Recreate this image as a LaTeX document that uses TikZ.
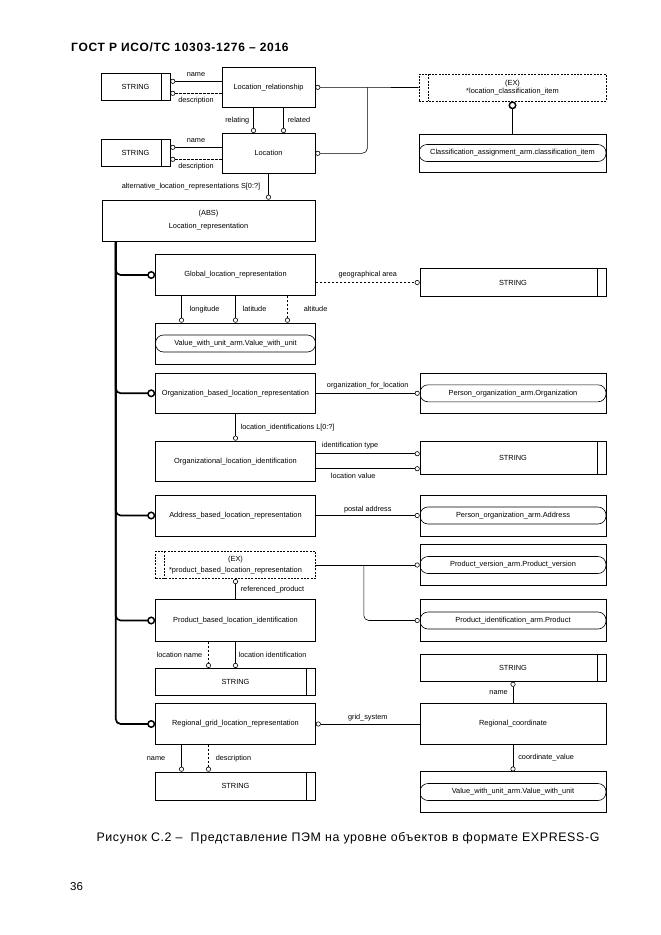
\documentclass[tikz,border=0pt]{standalone}
\usepackage{fontspec}
\setmainfont{Liberation Sans}
\newfontfamily\capfont[LetterSpace=5]{Liberation Sans}
\newfontfamily\titlefont[LetterSpace=6]{Liberation Sans}
\usetikzlibrary{positioning}
\usetikzlibrary{arrows.meta, positioning}
\tikzstyle{entity} = [rectangle, draw=black, line width=0.6pt, minimum width=160pt, minimum height=40.5pt, text centered, align=center, inner sep=1pt, font=\fontsize{7.4}{10}\selectfont]
\tikzstyle{wide} = [minimum width=186pt]
\tikzstyle{strbox} = [entity, minimum height=27.5pt, path picture={\draw[line width=0.6pt] ([xshift=-9pt]path picture bounding box.north east) -- ([xshift=-9pt]path picture bounding box.south east);}]
\tikzstyle{armbox} = [entity, path picture={\draw[line width=0.6pt, rounded corners=8pt] ([yshift=8.5pt]path picture bounding box.west) rectangle ([yshift=-8.5pt]path picture bounding box.east);}]
\tikzstyle{exbox} = [entity, minimum height=27.5pt, dash pattern=on 2pt off 1.3pt, path picture={\draw[line width=0.6pt, dash pattern=on 2pt off 1.3pt] ([xshift=9pt]path picture bounding box.north west) -- ([xshift=9pt]path picture bounding box.south west);}]
\tikzstyle{attr} = [line width=0.6pt, -{Circle[open,length=5pt]}]
\tikzstyle{attrback} = [line width=0.6pt, {Circle[open,length=5pt]}-]
\tikzstyle{optattr} = [attr, dash pattern=on 2.5pt off 1.5pt]
\tikzstyle{supline} = [line width=1.7pt, rounded corners=5pt, -{Circle[open,length=8pt,line width=1.5pt]}]
\tikzstyle{lbl} = [inner sep=1pt, font=\fontsize{7.3}{9}\selectfont]

\begin{document}
\begin{tikzpicture}[x=1pt, y=-1pt]
\useasboundingbox (0,0) rectangle (661,935);

\node[anchor=west, inner sep=0pt, font=\titlefont\fontsize{12}{14}\selectfont\bfseries] (title) at (71,47) {ГОСТ Р ИСО/ТС 10303-1276 – 2016};

% top part
\node (str1) [strbox, minimum width=69pt] at (135.5,87) {STRING};
\node (locrel) [entity, minimum width=93pt, minimum height=40pt] at (268.5,87.3) {Location\_relationship};
\node (str2) [strbox, minimum width=69pt] at (135.5,153) {STRING};
\node (loc) [entity, minimum width=93pt, minimum height=40pt] at (268.5,153.3) {Location};
\node (exloc) [exbox, minimum width=187pt, minimum height=27pt, font=\fontsize{7.4}{8.5}\selectfont] at (512.5,87.5) {(EX)\\*location\_classification\_item};
\node (classif) [armbox, minimum width=187pt, minimum height=38pt] at (512.5,153) {Classification\_assignment\_arm.classification\_item};
\node (absrep) [entity, minimum width=213pt, minimum height=41pt, font=\fontsize{7.4}{13}\selectfont] at (208.5,220.5) {(ABS)\\Location\_representation};

% subtypes
\node (glob) [entity] at (235.5,275) {Global\_location\_representation};
\node (strgeo) [strbox, wide] at (513,282.5) {STRING};
\node (val1) [armbox, minimum height=41pt] at (235.5,343.5) {Value\_with\_unit\_arm.Value\_with\_unit};
\node (orgbased) [entity] at (235.5,393.3) {Organization\_based\_location\_representation};
\node (porg) [armbox, wide] at (513,393.3) {Person\_organization\_arm.Organization};
\node (orgident) [entity] at (235.5,461.2) {Organizational\_location\_identification};
\node (strident) [strbox, wide, minimum height=33.5pt] at (513,457.8) {STRING};
\node (addr) [entity, minimum height=41pt] at (235.5,515.5) {Address\_based\_location\_representation};
\node (padr) [armbox, wide, minimum height=41pt] at (513,515.5) {Person\_organization\_arm.Address};
\node (exprod) [exbox, font=\fontsize{7.4}{11}\selectfont] at (235.5,565) {(EX)\\*product\_based\_location\_representation};
\node (pver) [armbox, wide, minimum height=41.5pt] at (513,565) {Product\_version\_arm.Product\_version};
\node (pbased) [entity, minimum height=41.5pt] at (235.5,620.5) {Product\_based\_location\_identification};
\node (pident) [armbox, wide, minimum height=41.5pt] at (513,620.5) {Product\_identification\_arm.Product};
\node (strloc) [strbox] at (235.5,682) {STRING};
\node (strname) [strbox, wide, minimum height=27pt] at (513,668) {STRING};
\node (regrid) [entity] at (235.5,724) {Regional\_grid\_location\_representation};
\node (regcoord) [entity, wide] at (513,724) {Regional\_coordinate};
\node (strreg) [strbox, minimum height=28pt] at (235.5,786) {STRING};
\node (val2) [armbox, wide] at (513,792) {Value\_with\_unit\_arm.Value\_with\_unit};

% attributes of the top part
\draw[attr] ([yshift=6pt]locrel.west) -- ([yshift=6pt]locrel.west -| str1.east) node[lbl, above=3.5pt, midway] {name};
\draw[optattr] ([yshift=-6pt]locrel.west) -- ([yshift=-6pt]locrel.west -| str1.east) node[lbl, below=2.5pt, midway] {description};
\draw[attr] ([yshift=6pt]loc.west) -- ([yshift=6pt]loc.west -| str2.east) node[lbl, above=3.5pt, midway] {name};
\draw[optattr] ([yshift=-6pt]loc.west) -- ([yshift=-6pt]loc.west -| str2.east) node[lbl, below=2.5pt, midway] {description};
\draw[attr] ([xshift=-15pt]locrel.south) -- ([xshift=-15pt]loc.north) node[lbl, left=3pt, midway] {relating};
\draw[attr] ([xshift=15pt]locrel.south) -- ([xshift=15pt]loc.north) node[lbl, right=3pt, midway] {related};
\coordinate[right=52pt of locrel.east] (jn);
\draw[attrback] (locrel.east) -- (exloc.west);
\draw[attrback, rounded corners=5pt] (loc.east) -| (jn);
\draw[line width=1.7pt, -{Circle[open,length=8pt,line width=1.5pt]}] (classif.north) -- (exloc.south);
\draw[attr] (loc.south) -- (loc.south |- absrep.north) node[lbl, left=7pt, midway] {alternative\_location\_representations S[0:?]};

% subtype tree
\coordinate (trunk) at ([xshift=14pt]absrep.south west);
\draw[supline] (trunk) |- (glob.west);
\draw[supline] (trunk) |- (orgbased.west);
\draw[supline] (trunk) |- (addr.west);
\draw[supline] (trunk) |- (pbased.west);
\draw[supline] (trunk) |- (regrid.west);

% Global_location_representation
\draw[optattr] (glob.east |- strgeo.west) -- (strgeo.west) node[lbl, above=3pt, midway] {geographical area};
\draw[attr] ([xshift=-54pt]glob.south) -- ([xshift=-54pt]val1.north) node[lbl, right=7pt, midway] {longitude};
\draw[attr] (glob.south) -- (val1.north) node[lbl, right=6pt, midway] {latitude};
\draw[optattr] ([xshift=52pt]glob.south) -- ([xshift=52pt]val1.north) node[lbl, right=15pt, midway] {altitude};

% Organization_based_location_representation
\draw[attr] (orgbased.east) -- (porg.west) node[lbl, above=3pt, midway] {organization\_for\_location};
\draw[attr] (orgbased.south) -- (orgident.north) node[lbl, right=4pt, midway] {location\_identifications L[0:?]};
\draw[attr] ([yshift=7.5pt]orgident.east) -- ([yshift=7.5pt]orgident.east -| strident.west) node[lbl, above=3pt, pos=0.33] {identification type};
\draw[attr] ([yshift=-7.5pt]orgident.east) -- ([yshift=-7.5pt]orgident.east -| strident.west) node[lbl, below=3.5pt, pos=0.36] {location value};

% Address_based_location_representation
\draw[attr] (addr.east) -- (padr.west) node[lbl, above=1.5pt, midway] {postal address};

% Product_based_location_identification
\coordinate[right=48pt of exprod.east] (pj);
\draw[attr] (exprod.east) -- (pver.west);
\draw[attr, rounded corners=5pt] (pj) |- (pident.west);
\draw[attr] (pbased.north) -- (exprod.south) node[lbl, right=4pt, midway] {referenced\_product};
\draw[optattr] ([xshift=-27pt]pbased.south) -- ([xshift=-27pt]strloc.north) node[lbl, left=5pt, midway] {location name};
\draw[attr] (pbased.south) -- (strloc.north) node[lbl, right=2pt, midway] {location identification};

% Regional_grid_location_representation
\draw[attrback] (regrid.east) -- (regcoord.west) node[lbl, above=2pt, midway] {grid\_system};
\draw[attr] ([xshift=-54pt]regrid.south) -- ([xshift=-54pt]strreg.north) node[lbl, left=15pt, midway] {name};
\draw[optattr] ([xshift=-27pt]regrid.south) -- ([xshift=-27pt]strreg.north) node[lbl, right=6pt, midway] {description};
\draw[attr] (regcoord.north) -- (strname.south) node[lbl, left=4pt, midway] {name};
\draw[attr] (regcoord.south) -- (val2.north) node[lbl, right=4pt, midway] {coordinate\_value};

\node[font=\capfont\fontsize{12.4}{14}\selectfont] (caption) at (348,838) {Рисунок С.2 – \ Представление ПЭМ на уровне объектов в формате EXPRESS-G};
\node[anchor=west, inner sep=0pt, font=\fontsize{11.5}{13}\selectfont] (pagenum) at (70,887) {36};
\end{tikzpicture}
\end{document}
